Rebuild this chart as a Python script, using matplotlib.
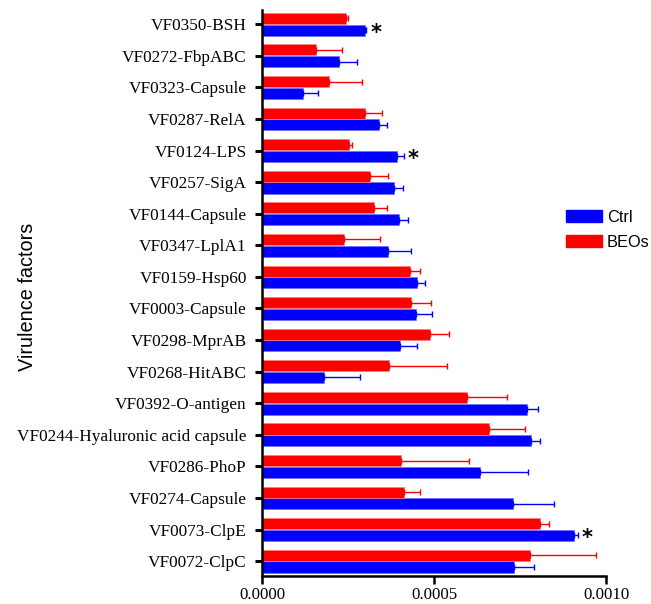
import matplotlib
matplotlib.use("Agg")
import matplotlib.pyplot as plt
import numpy as np

categories = ["VF0350-BSH", "VF0272-FbpABC", "VF0323-Capsule", "VF0287-RelA",
              "VF0124-LPS", "VF0257-SigA", "VF0144-Capsule", "VF0347-LplA1",
              "VF0159-Hsp60", "VF0003-Capsule", "VF0298-MprAB", "VF0268-HitABC",
              "VF0392-O-antigen", "VF0244-Hyaluronic acid capsule", "VF0286-PhoP",
              "VF0274-Capsule", "VF0073-ClpE", "VF0072-ClpC"]
ctrl = [0.000299, 0.000224, 0.000120, 0.000339, 0.000393, 0.000383, 0.000399, 0.000365,
        0.000450, 0.000448, 0.000400, 0.000181, 0.000771, 0.000783, 0.000635, 0.000730,
        0.000907, 0.000734]
ctrl_err = [0.000004, 0.000053, 0.000044, 0.000024, 0.000019, 0.000027, 0.000025, 0.000067,
            0.000023, 0.000047, 0.000050, 0.000103, 0.000031, 0.000026, 0.000138, 0.000119,
            0.000011, 0.000057]
beos = [0.000243, 0.000156, 0.000196, 0.000300, 0.000253, 0.000315, 0.000327, 0.000239,
        0.000429, 0.000432, 0.000487, 0.000370, 0.000597, 0.000660, 0.000404, 0.000412,
        0.000808, 0.000780]
beos_err = [0.000008, 0.000077, 0.000094, 0.000049, 0.000010, 0.000051, 0.000036, 0.000104,
            0.000029, 0.000058, 0.000058, 0.000169, 0.000116, 0.000104, 0.000197, 0.000047,
            0.000025, 0.000191]
significant = ["VF0350-BSH", "VF0124-LPS", "VF0073-ClpE"]
xticks = [0.0, 0.0005, 0.0010]
xticklabels = ["0.0000", "0.0005", "0.0010"]

fig = plt.figure(figsize=(6.51, 6.04), dpi=100)
ax = fig.add_axes([262/651, 28/604, 344/651, 566/604])

n = len(categories)
y = np.arange(n)[::-1].astype(float)
h = 0.35
off = 0.185
blue = "#0000FF"
red = "#FF0000"

ax.barh(y - off, ctrl, height=h, color=blue, edgecolor="#6f6fff", linewidth=0.5,
        xerr=[np.zeros(n), ctrl_err], error_kw=dict(ecolor=blue, elinewidth=1.0, capsize=2.5, capthick=1.0),
        label="Ctrl", zorder=2)
ax.barh(y + off, beos, height=h, color=red, edgecolor="#ff7f7f", linewidth=0.5,
        xerr=[np.zeros(n), beos_err], error_kw=dict(ecolor=red, elinewidth=1.0, capsize=2.5, capthick=1.0),
        label="BEOs", zorder=2)

for i, c in enumerate(categories):
    if c in significant:
        ax.text(ctrl[i] + ctrl_err[i] + 0.000012, y[i] - off - 0.08, "*", fontsize=15,
                fontweight="bold", ha="left", va="center", family="DejaVu Sans")

ax.set_xlim(0, 0.001)
ax.set_ylim(-0.47, n - 1 + 0.45)
ax.set_yticks(y)
ax.set_yticklabels(categories, family="Liberation Serif", fontsize=12.4)
ax.set_xticks(xticks)
ax.set_xticklabels(xticklabels, family="Liberation Serif", fontsize=12.2)

for s in ["top", "right"]:
    ax.spines[s].set_visible(False)
for s in ["left", "bottom"]:
    ax.spines[s].set_linewidth(1.8)
ax.tick_params(axis="y", length=5, width=2.2, pad=6)
ax.tick_params(axis="x", length=6, width=1.8, pad=2)

fig.text(27.5/651, 1 - 296.5/604, "Virulence factors", rotation=90, ha="center", va="center",
         family="Liberation Sans", fontsize=14.3)

handles = [plt.Rectangle((0, 0), 1, 1, color=blue), plt.Rectangle((0, 0), 1, 1, color=red)]
fig.legend(handles, ["Ctrl", "BEOs"], loc="center left", bbox_to_anchor=(566/651, 1 - 230/604),
           frameon=False, prop=dict(family="Liberation Sans", size=11.8), borderpad=0,
           borderaxespad=0, handlelength=2.2, handleheight=0.75, handletextpad=0.3,
           labelspacing=0.6)

fig.savefig("out.png", dpi=100)
